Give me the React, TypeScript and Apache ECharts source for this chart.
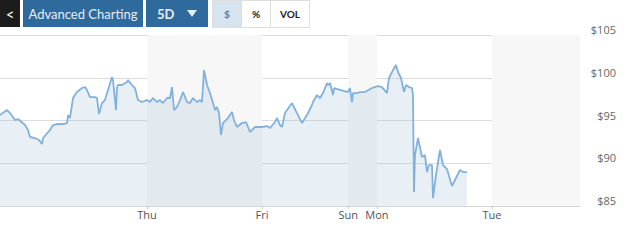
import React, { useEffect, useRef } from "react";
import * as echarts from "echarts";

// Time axis in hours (Thu = 24, Fri = 48, Sun = 66, Mon = 72, Tue = 96)
const dayTicks = [24, 48, 66, 72, 96];
const dayLabels = ["Thu", "Fri", "Sun", "Mon", "Tue"];
const bands = [
  [24, 48],
  [66, 72],
  [96, 114.4],
];
const priceTicks = [85, 90, 95, 100, 105];

const hours = [
  -6.69, -5.23, -4.6, -3.56, -2.93, -1.47, -0.85, -0.43, 0.62, 1.45, 2.08, 2.29, 3.75, 4.38, 5.42, 6.46, 7.3,
  7.51, 7.92, 8.55, 9.39, 10.43, 11.06, 11.47, 12.1, 13.14, 13.56, 13.98, 14.6, 15.23, 15.86, 16.69, 16.9,
  17.53, 17.74, 17.94, 18.78, 19.82, 20.03, 20.87, 21.49, 22.12, 22.96, 24.0, 24.63, 25.25, 26.09, 26.71,
  27.34, 28.18, 28.8, 29.22, 29.64, 30.26, 30.89, 31.52, 32.35, 32.98, 33.6, 34.44, 35.06, 35.48, 35.9,
  36.53, 37.15, 37.78, 38.2, 38.61, 39.03, 39.45, 39.86, 40.91, 41.74, 42.16, 42.79, 43.83, 44.67, 45.5,
  46.55, 48.01, 49.05, 49.68, 50.72, 51.14, 51.77, 52.18, 52.81, 54.27, 55.31, 56.36, 57.4, 58.45, 58.65,
  59.49, 60.12, 60.74, 61.58, 61.79, 62.2, 62.83, 63.04, 65.96, 66.38, 66.8, 67.01, 67.84, 68.47, 69.51,
  70.97, 72.22, 73.06, 74.1, 74.52, 75.36, 75.98, 76.4, 77.03, 77.65, 78.07, 78.7, 79.32, 79.53, 79.74,
  79.95, 80.58, 81.41, 82.04, 82.45, 82.87, 83.5, 83.71, 84.33, 85.17, 85.79, 86.63, 87.67, 88.3, 89.34,
  89.97, 90.8,
];

const prices = [
  95.64, 96.22, 95.87, 95.05, 95.17, 94.47, 93.89, 93.07, 92.95, 92.72, 92.25, 92.95, 93.89, 94.47, 94.59,
  94.59, 94.7, 95.64, 95.29, 97.63, 98.33, 98.8, 98.91, 98.56, 97.74, 97.74, 97.63, 95.76, 97.04, 97.39,
  98.56, 100.08, 99.73, 96.22, 98.91, 99.15, 99.15, 99.5, 99.73, 99.15, 98.8, 97.39, 97.16, 97.39, 97.16,
  97.63, 97.16, 97.39, 97.04, 97.63, 97.63, 98.91, 96.22, 96.58, 97.39, 98.33, 97.16, 97.04, 97.63, 97.16,
  97.39, 97.16, 100.9, 99.15, 98.21, 97.04, 96.22, 96.58, 95.87, 93.3, 94.7, 95.29, 95.99, 95.05, 94.24,
  94.7, 94.82, 93.65, 94.24, 94.24, 94.35, 94.12, 94.82, 95.29, 94.47, 94.24, 95.87, 97.04, 95.87, 94.7,
  95.64, 96.81, 97.16, 97.98, 97.63, 98.21, 99.38, 99.15, 99.38, 97.98, 98.8, 98.33, 98.8, 97.16, 98.21,
  98.21, 98.33, 98.33, 98.8, 99.03, 98.91, 98.21, 99.97, 100.9, 101.49, 100.67, 99.97, 98.33, 99.15, 98.91,
  98.8, 97.98, 86.64, 90.96, 92.95, 90.73, 90.96, 88.97, 89.79, 89.79, 85.93, 88.62, 91.55, 89.79, 89.32,
  87.33, 88.04, 89.21, 88.97, 88.97,
];

const BLUE = "#2f6a9c";

export default function App() {
  const ref = useRef<HTMLDivElement>(null);
  useEffect(() => {
    if (!ref.current) return;
    const chart = echarts.init(ref.current, null, { renderer: "svg" });
    const data = hours.map((h, i) => [h, prices[i]]);
    chart.setOption({
      animation: false,
      grid: { left: 0, right: 47, top: 35, bottom: 35 },
      xAxis: {
        type: "value",
        min: -6.69,
        max: 114.4,
        splitLine: { show: false },
        axisLine: { show: true, lineStyle: { color: "#d6d6d6" } },
        axisTick: { show: true, customValues: dayTicks, length: 3, lineStyle: { color: "#c8c8c8" } },
        axisLabel: {
          customValues: dayTicks,
          formatter: (v: number) => dayLabels[dayTicks.indexOf(v)] ?? "",
          color: "#555",
          fontSize: 11,
          fontFamily: "Open Sans",
          margin: 3,
        },
      },
      yAxis: {
        type: "value",
        position: "right",
        min: 85,
        max: 105,
        interval: 5,
        axisLine: { show: false },
        axisTick: { show: false },
        splitLine: { show: true, lineStyle: { color: "#dcdcdc" } },
        axisLabel: {
          formatter: (v: number) => (priceTicks.includes(v) ? "$" + v : ""),
          color: "#666",
          fontSize: 11,
          fontFamily: "Open Sans",
          align: "right",
          verticalAlign: "bottom",
          margin: 36,
        },
      },
      series: [
        {
          type: "line",
          data,
          showSymbol: false,
          symbol: "none",
          lineStyle: { color: "#82b1dc", width: 1.8 },
          areaStyle: { color: "rgba(165,195,220,0.36)" },
          z: 3,
          markArea: {
            silent: true,
            itemStyle: { color: "#f7f7f7" },
            data: bands.map((b) => [{ xAxis: b[0] }, { xAxis: b[1] }]),
          },
        },
      ],
      graphic: [
        { type: "rect", shape: { x: 0, y: 0, width: 20, height: 27 }, style: { fill: "#1c1c1c" } },
        {
          type: "text",
          x: 10,
          y: 13.5,
          style: { text: "<", fill: "#fff", font: "15px Lato", align: "center", verticalAlign: "middle" },
        },
        { type: "rect", shape: { x: 23, y: 0, width: 120, height: 27 }, style: { fill: BLUE } },
        {
          type: "text",
          x: 83,
          y: 13.5,
          style: {
            text: "Advanced Charting",
            fill: "#e6edf4",
            font: "13px Lato",
            align: "center",
            verticalAlign: "middle",
          },
        },
        { type: "rect", shape: { x: 146, y: 0, width: 62, height: 27 }, style: { fill: BLUE } },
        {
          type: "text",
          x: 157,
          y: 13.5,
          style: { text: "5D", fill: "#e6edf4", font: "bold 13px Lato", verticalAlign: "middle" },
        },
        {
          type: "polygon",
          shape: { points: [[187, 10], [197, 10], [192, 17]] },
          style: { fill: "#e6edf4" },
        },
        {
          type: "rect",
          shape: { x: 212.5, y: 0.5, width: 97, height: 27 },
          style: { fill: "#fff", stroke: "#dddddd", lineWidth: 1 },
        },
        { type: "rect", shape: { x: 213, y: 1, width: 28, height: 26 }, style: { fill: "#d6e4f0" } },
        { type: "line", shape: { x1: 241.5, y1: 0, x2: 241.5, y2: 28 }, style: { stroke: "#dddddd" } },
        { type: "line", shape: { x1: 270.5, y1: 0, x2: 270.5, y2: 28 }, style: { stroke: "#dddddd" } },
        {
          type: "text",
          x: 227,
          y: 14,
          style: { text: "$", fill: "#4d80b0", font: "bold 10px Lato", align: "center", verticalAlign: "middle" },
        },
        {
          type: "text",
          x: 256,
          y: 14,
          style: { text: "%", fill: "#222", font: "bold 10px Lato", align: "center", verticalAlign: "middle" },
        },
        {
          type: "text",
          x: 290,
          y: 14,
          style: { text: "VOL", fill: "#222", font: "bold 10px Lato", align: "center", verticalAlign: "middle" },
        },
      ],
    });
    return () => chart.dispose();
  }, []);
  return <div ref={ref} style={{ width: 627, height: 241, position: "absolute", left: 0, top: 0 }} />;
}
